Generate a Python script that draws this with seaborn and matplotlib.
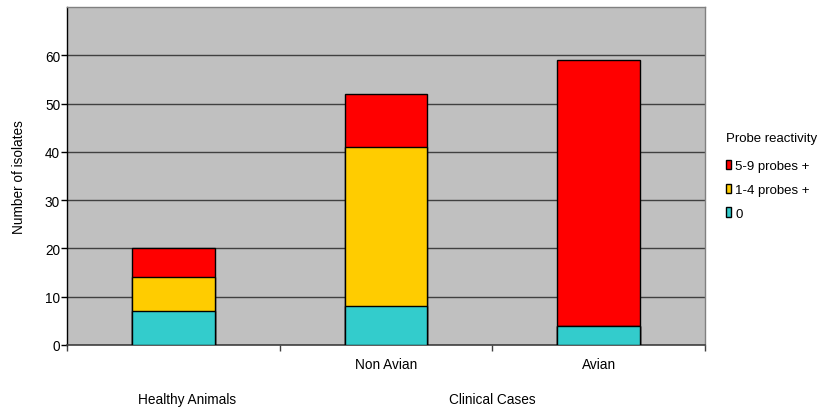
import matplotlib
matplotlib.use("Agg")
import matplotlib.pyplot as plt
from matplotlib.patches import Patch
import seaborn as sns
import pandas as pd
import numpy as np

# Isolate counts per group, split by probe reactivity
groups = ["Healthy Animals", "Non Avian", "Avian"]
probes_0 = [7, 8, 4]
probes_1_4 = [7, 33, 0]
probes_5_9 = [6, 11, 55]

sub_labels = ["", "Non Avian", "Avian"]
top_labels = ["Healthy Animals", "Clinical Cases"]
legend_title = "Probe reactivity"
series_names = ["5-9 probes +", "1-4 probes +", "0"]
colors = {"5-9 probes +": "#FF0000", "1-4 probes +": "#FFCC00", "0": "#33CCCC"}

FS = 9.8

sns.set_style("white")
plt.rcParams["font.family"] = ["Liberation Sans", "DejaVu Sans"]
plt.rcParams["font.size"] = FS
plt.rcParams["text.color"] = "black"
plt.rcParams["axes.labelcolor"] = "black"
plt.rcParams["xtick.color"] = "black"
plt.rcParams["ytick.color"] = "black"

df = pd.DataFrame({"group": groups, "p0": probes_0, "p14": probes_1_4, "p59": probes_5_9})
df["c0"] = df["p0"]
df["c14"] = df["p0"] + df["p14"]
df["c59"] = df["c14"] + df["p59"]

fig = plt.figure(figsize=(8.19, 4.10), dpi=100)
ax = fig.add_axes([67 / 819, 1 - 346 / 410, (705 - 67) / 819, (346 - 8) / 410])
ax.set_facecolor("#C0C0C0")

# stacked bars: draw cumulative totals from the top layer down
for col, name in [("c59", "5-9 probes +"), ("c14", "1-4 probes +"), ("c0", "0")]:
    sns.barplot(data=df, x="group", y=col, color=colors[name], width=0.39,
                edgecolor="black", linewidth=1, saturation=1, ax=ax, zorder=3)

ax.set_ylim(0, 70)
ax.set_xlim(-0.5, 2.5)
ax.set_yticks(np.arange(0, 61, 10))
ax.yaxis.grid(True, color="#404040", linewidth=1)
ax.set_axisbelow(True)
ax.tick_params(axis="y", left=True, length=4, width=1, color="black", pad=1,
               labelsize=FS, labelcolor="black")

ax.set_xticks([-0.5, 0.5, 1.5, 2.5])
ax.set_xticklabels([])
ax.tick_params(axis="x", bottom=True, length=4, width=1, color="#404040")
ax.set_xlabel("")
ax.set_ylabel("Number of isolates", fontsize=FS, color="black")
ax.yaxis.set_label_coords(-(67 - 26) / (705 - 67), 0.5)

for s in ["top", "right"]:
    ax.spines[s].set_color("#808080")
    ax.spines[s].set_linewidth(1)
ax.spines["left"].set_color("black")
ax.spines["bottom"].set_color("#404040")
ax.spines["left"].set_linewidth(1)
ax.spines["bottom"].set_linewidth(1.2)

# two-level category labels
trans = ax.get_xaxis_transform()
for i, lab in enumerate(sub_labels):
    if lab:
        ax.text(i, -0.055, lab, transform=trans, ha="center", va="center", fontsize=FS)
ax.text(0.065, -0.16, top_labels[0], transform=trans, ha="center", va="center", fontsize=FS)
ax.text(1.5, -0.16, top_labels[1], transform=trans, ha="center", va="center", fontsize=FS)

handles = [Patch(facecolor=colors[n], edgecolor="black", linewidth=1) for n in series_names]
leg = ax.legend(handles, series_names, title=legend_title, loc="upper left",
                bbox_to_anchor=(726 / 819, 1 - 133 / 410), bbox_transform=fig.transFigure,
                frameon=False, handlelength=0.4, handleheight=0.7, handletextpad=0.3,
                labelspacing=0.88, fontsize=9.5, title_fontsize=9.5, borderaxespad=0,
                borderpad=0)
leg._legend_box.align = "left"
leg._legend_box.sep = 11.3

fig.savefig("out.png", dpi=100)
